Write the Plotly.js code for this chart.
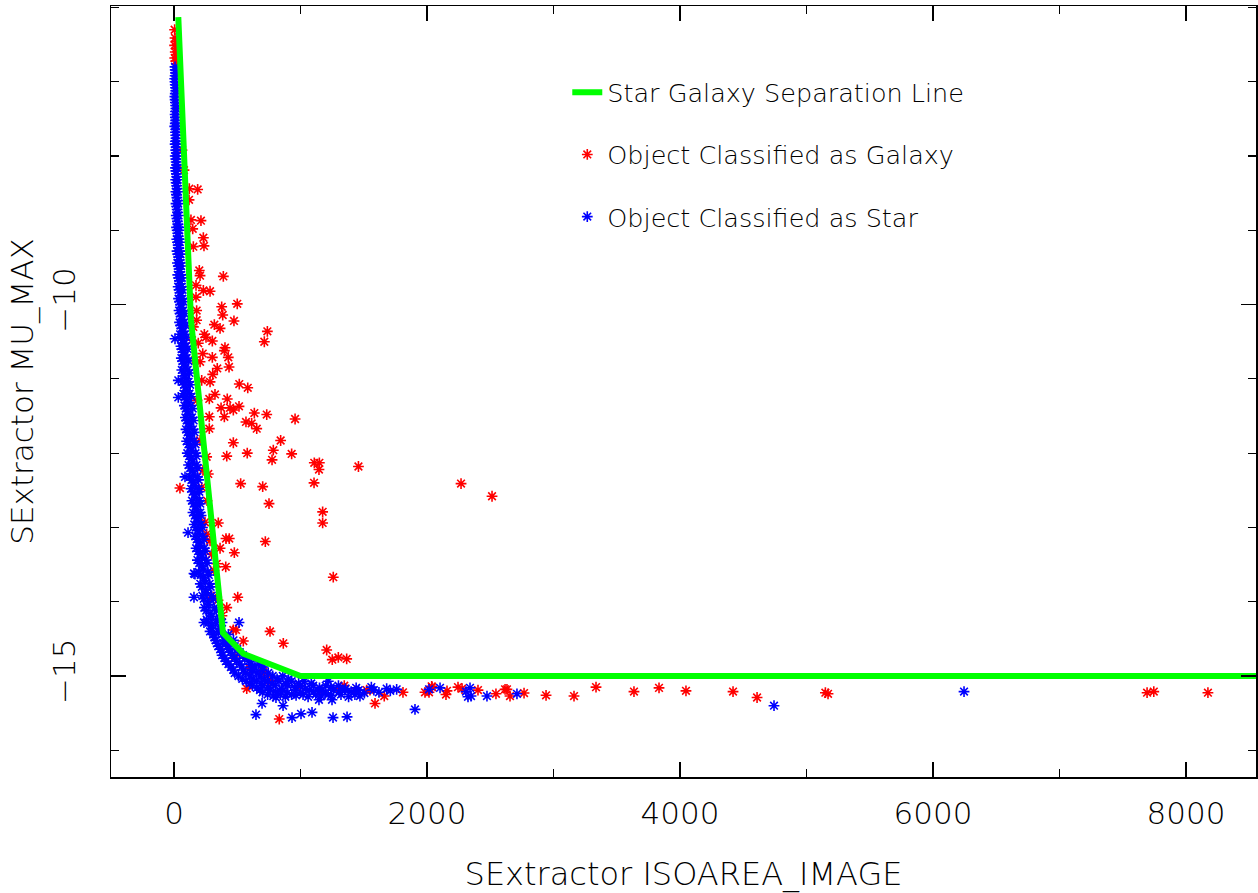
<!DOCTYPE html>
<html>
<head>
<meta charset="utf-8">
<script src="https://cdn.plot.ly/plotly-3.0.1.min.js"></script>
<style>html,body{margin:0;padding:0;background:#fff;}#chart{width:1258px;height:893px;}</style>
</head>
<body>
<div id="chart"></div>
<script>
// Star / galaxy separation line
const sepX = [34, 134, 387, 548, 1000, 9000];
const sepY = [-6.13, -10.2, -14.42, -14.7, -15.0, -15.0];

// Objects classified as galaxy (red)
const galaxyX = [5,8,15,5,18,10,20,6,14,22,
  121,187,119,213,134,148,232,237,153,390,200,206,174,232,285,174,377,500,385,474,179,179,153,
  319,364,738,714,240,253,303,192,403,398,227,303,429,206,342,435,306,285,516,583,219,324,279,421,
  372,443,514,469,279,398,635,733,957,569,614,654,279,469,843,579,417,258,785,775,930,1109,1149,1146,1458,
  271,527,701,1107,2269,2514,47,219,751,1175,1175,350,245,258,437,411,722,364,477,298,409,338,1259,
  504,311,417,490,469,759,548,864,1207,1251,1299,1365,706,575,832,1346,1523,1549,1589,1662,2037,
  142,166,182,206,229,261,285,316,348,379,427,482,601,759,996,1154,1312,1431,63,79,
  1810,1984,2016,2040,2150,2158,2245,2277,2403,2545,2617,2632,2656,2767,2941,3162,3336,3636,3834,4047,
  4419,4609,5149,5170,7692,7745,8173];
const galaxyY = [-6.30,-6.41,-6.46,-6.51,-6.55,-6.60,-6.64,-6.68,-6.72,-6.76,
  -8.44,-8.45,-8.59,-8.87,-8.86,-8.98,-9.10,-9.21,-9.22,-9.62,-9.54,-9.61,-9.74,-9.81,-9.82,-9.90,-10.03,-9.99,-10.14,-10.22,-10.08,-10.21,-10.30,
  -10.27,-10.32,-10.36,-10.50,-10.40,-10.44,-10.49,-10.52,-10.58,-10.62,-10.66,-10.71,-10.71,-10.77,-10.86,-10.84,-10.94,-11.04,-11.07,-11.12,-11.02,-11.21,-11.27,-11.27,
  -11.39,-11.39,-11.37,-11.42,-11.51,-11.51,-11.46,-11.48,-11.54,-11.58,-11.60,-11.67,-11.67,-11.86,-11.83,-12.00,-12.04,-12.05,-11.96,-12.09,-12.01,-12.13,-12.13,-12.22,-12.18,
  -12.28,-12.41,-12.45,-12.40,-12.41,-12.58,-12.47,-12.46,-12.68,-12.79,-12.94,-12.94,-12.93,-13.09,-13.15,-13.15,-13.19,-13.28,-13.34,-13.36,-13.53,-13.49,-13.67,
  -13.94,-13.94,-14.08,-14.38,-14.38,-14.40,-14.53,-14.56,-14.65,-14.78,-14.75,-14.77,-14.94,-15.17,-15.58,-15.13,-15.19,-15.19,-15.37,-15.27,-15.14,
  -10.48,-10.75,-11.29,-11.83,-12.23,-12.64,-13.18,-13.58,-13.98,-14.19,-14.59,-14.73,-14.90,-15.06,-15.14,-15.20,-15.17,-15.20,-7.92,-8.19,
  -15.22,-15.22,-15.22,-15.15,-15.25,-15.20,-15.15,-15.17,-15.19,-15.24,-15.18,-15.18,-15.27,-15.23,-15.26,-15.27,-15.15,-15.21,-15.16,-15.20,
  -15.21,-15.29,-15.225,-15.24,-15.225,-15.21,-15.225];

// Objects classified as star (blue)
const starX = [8,12,6,10,14,7,11,15,9,13,6,18,12,16,9,20,14,10,22,17,12,25,19,13,27,21,15,30,23,16,33,25,18,35,27,20,38,30,22,41,33,24,45,36,27,50,40,30,55,43,33,60,47,36,65,52,40,72,56,44,80,62,48,86,67,
  55,95,72,58,100,78,62,108,85,68,115,90,75,122,98,82,132,105,90,142,115,95,150,122,100,158,130,105,170,138,115,178,145,125,185,155,135,195,165,142,202,172,150,208,180,160,215,188,168,228,198,175,240,210,185,255,222,195,268,235,208,282,250,225,298,265,240,320,285,258,345,300,
  285,350,320,410,340,385,440,365,430,500,380,460,545,410,495,590,450,535,640,705,480,565,655,745,540,625,715,815,905,600,690,775,880,985,1085,
  655,745,850,955,1040,1150,1240,1355,1440,1560,700,805,895,1000,1105,1195,1305,1400,1505,1620,785,880,965,1060,1165,1245,1380,1470,
  111,158,237,696,648,862,933,1004,1091,1257,1368,1905,806,1146,1249,2016,2103,2308,2324,2340,2348,2474,2711,4743,6245,158,514,614,8,34,34,87,166,1710,1760,1220,1681,
  10,9,8,12,10,9,13,12,11,10,15,14,12,17,18,14,20,15,23,17,25,19,28,21,30,23,32,25,40,34,28,45,38,30,52,42,34,56,46,37,62,50,40,68,55,44,75,60,48,84,66,52,92,72,58,100,78,62,108,84,68,115,90,74,122,96,80,128,102,86,138,110,94,148,118,100,155,125,108,162,132,114,170,140,120,178,148,128,186,156,138,194,166,148,200,176,155,208,182,165,214,190,172,225,198,180,236,208,190,248,220,200,262,232,212,275,245,220,290,258,235,310,275,255,335,300,
  275,330,380,300,360,310,380,430,330,400,470,350,420,480,380,450,520,400,480,560,430,520,610,670,470,550,620,700,510,600,680,780,860,570,650,740,830,930,1030,620,700,800,900,1000,1100,1200,1300,680,760,860,960,1070,1170,1260,1350,1460,1580,740,840,930,1020,1120,1220,1320,1430];
const starY = [-6.80,-6.88,-6.96,-7.04,-7.12,-7.20,-7.28,-7.36,-7.44,-7.52,-7.60,-7.60,-7.68,-7.76,-7.84,-7.84,-7.92,-8.00,-8.00,-8.08,-8.16,-8.16,-8.24,-8.32,-8.32,-8.40,-8.48,-8.48,-8.56,-8.64,-8.64,-8.72,-8.80,-8.80,-8.88,-8.96,-8.96,-9.04,-9.12,-9.12,-9.20,-9.28,-9.28,-9.36,-9.44,-9.44,-9.52,-9.60,-9.60,-9.68,-9.76,-9.76,-9.84,-9.92,-9.92,-10.00,-10.08,-10.08,-10.16,-10.24,-10.24,-10.32,-10.40,-10.40,-10.48,
  -10.56,-10.56,-10.64,-10.72,-10.72,-10.80,-10.88,-10.88,-10.96,-11.04,-11.04,-11.12,-11.20,-11.20,-11.28,-11.36,-11.36,-11.44,-11.52,-11.52,-11.60,-11.68,-11.68,-11.76,-11.84,-11.84,-11.92,-12.00,-12.00,-12.08,-12.16,-12.16,-12.24,-12.32,-12.32,-12.40,-12.48,-12.48,-12.56,-12.64,-12.64,-12.72,-12.80,-12.80,-12.88,-12.96,-12.96,-13.04,-13.12,-13.12,-13.20,-13.28,-13.28,-13.36,-13.44,-13.44,-13.52,-13.60,-13.60,-13.68,-13.76,-13.76,-13.84,-13.92,-13.92,-14.00,-14.08,-14.08,-14.16,-14.24,-14.24,-14.32,
  -14.40,-14.40,-14.48,-14.48,-14.56,-14.56,-14.56,-14.64,-14.64,-14.64,-14.72,-14.72,-14.72,-14.80,-14.80,-14.80,-14.88,-14.88,-14.88,-14.88,-14.96,-14.96,-14.96,-14.96,-15.04,-15.04,-15.04,-15.04,-15.04,-15.10,-15.10,-15.10,-15.10,-15.10,-15.10,
  -15.16,-15.16,-15.17,-15.15,-15.17,-15.16,-15.15,-15.17,-15.16,-15.15,-15.22,-15.21,-15.23,-15.22,-15.21,-15.23,-15.22,-15.21,-15.23,-15.22,-15.27,-15.28,-15.26,-15.28,-15.27,-15.26,-15.28,-15.27,
  -13.07,-13.94,-14.28,-15.37,-15.52,-15.40,-15.56,-15.51,-15.49,-15.56,-15.55,-15.45,-15.29,-15.32,-15.32,-15.18,-15.16,-15.21,-15.28,-15.16,-15.27,-15.27,-15.24,-15.40,-15.21,-13.62,-14.28,-14.91,-10.46,-11.02,-11.25,-12.32,-13.63,-15.20,-15.18,-15.07,-15.17,
  -6.84,-6.92,-7.00,-7.08,-7.16,-7.24,-7.32,-7.40,-7.48,-7.56,-7.64,-7.72,-7.80,-7.88,-7.96,-8.04,-8.12,-8.20,-8.28,-8.36,-8.44,-8.52,-8.60,-8.68,-8.76,-8.84,-8.92,-9.00,-9.00,-9.08,-9.16,-9.16,-9.24,-9.32,-9.32,-9.40,-9.48,-9.48,-9.56,-9.64,-9.64,-9.72,-9.80,-9.80,-9.88,-9.96,-9.96,-10.04,-10.12,-10.12,-10.20,-10.28,-10.28,-10.36,-10.44,-10.44,-10.52,-10.60,-10.60,-10.68,-10.76,-10.76,-10.84,-10.92,-10.92,-11.00,-11.08,-11.08,-11.16,-11.24,-11.24,-11.32,-11.40,-11.40,-11.48,-11.56,-11.56,-11.64,-11.72,-11.72,-11.80,-11.88,-11.88,-11.96,-12.04,-12.04,-12.12,-12.20,-12.20,-12.28,-12.36,-12.36,-12.44,-12.52,-12.52,-12.60,-12.68,-12.68,-12.76,-12.84,-12.84,-12.92,-13.00,-13.00,-13.08,-13.16,-13.16,-13.24,-13.32,-13.32,-13.40,-13.48,-13.48,-13.56,-13.64,-13.64,-13.72,-13.80,-13.80,-13.88,-13.96,-13.96,-14.04,-14.12,-14.12,-14.20,
  -14.28,-14.28,-14.28,-14.36,-14.36,-14.44,-14.44,-14.44,-14.52,-14.52,-14.52,-14.60,-14.60,-14.60,-14.68,-14.68,-14.68,-14.76,-14.76,-14.76,-14.84,-14.84,-14.84,-14.84,-14.92,-14.92,-14.92,-14.92,-15.00,-15.00,-15.00,-15.00,-15.00,-15.07,-15.07,-15.07,-15.07,-15.07,-15.07,-15.13,-15.13,-15.13,-15.13,-15.13,-15.13,-15.13,-15.13,-15.19,-15.19,-15.19,-15.19,-15.19,-15.19,-15.19,-15.19,-15.19,-15.19,-15.25,-15.25,-15.25,-15.25,-15.25,-15.25,-15.25,-15.25];

const FONT = 'DejaVu Sans';
const W = 200;
const markerStyle = (c) => ({symbol: 'asterisk-open', size: 9, color: c, line: {color: c, width: 1.6}});

const traces = [
  {type: 'scatter', mode: 'markers', x: galaxyX, y: galaxyY, name: 'Object Classified as Galaxy',
   marker: markerStyle('#ff0000'), legendrank: 2, legendgroup: 'g', hoverinfo: 'skip'},
  {type: 'scatter', mode: 'markers', x: starX, y: starY, name: 'Object Classified as Star',
   marker: markerStyle('#0000ff'), legendrank: 3, legendgroup: 's', hoverinfo: 'skip'},
  {type: 'scatter', mode: 'lines', x: sepX, y: sepY, name: 'Star Galaxy Separation Line',
   line: {color: '#00ff00', width: 6}, legendrank: 1, legendgroup: 'l', hoverinfo: 'skip'}
];

const axisCommon = {
  showline: true, linecolor: '#000', linewidth: 1.5, mirror: 'ticks',
  ticks: 'inside', ticklen: 15, tickwidth: 1.2, tickcolor: '#000',
  showgrid: false, zeroline: false,
  tickfont: {family: FONT, size: 31, color: '#000', weight: W}
};

const layout = {
  width: 1258, height: 893,
  margin: {l: 111, r: 2, t: 6, b: 116, pad: 0},
  paper_bgcolor: '#fff', plot_bgcolor: '#fff',
  showlegend: true,
  legend: {x: 0.3985, y: 0.918, xanchor: 'left', yanchor: 'top', bgcolor: 'rgba(0,0,0,0)',
           font: {family: FONT, size: 25.5, color: '#000', weight: W}, tracegroupgap: 26, traceorder: 'grouped'},
  xaxis: Object.assign({}, axisCommon, {
    range: [-498, 8553], dtick: 2000, tick0: 0,
    minor: {dtick: 1000, ticklen: 8, ticks: 'inside', tickcolor: '#000', tickwidth: 1.2},
    ticklabelstandoff: 8,
    title: {text: 'SExtractor ISOAREA_IMAGE', font: {family: FONT, size: 32, color: '#000', weight: W}, standoff: 35}
  }),
  yaxis: Object.assign({}, axisCommon, {
    range: [-16.36, -5.98], dtick: 5, tick0: 0, tickangle: -90,
    minor: {dtick: 1, ticklen: 8, ticks: 'inside', tickcolor: '#000', tickwidth: 1.2},
    ticklabelstandoff: 22,
    title: {text: 'SExtractor MU_MAX', font: {family: FONT, size: 31, color: '#000', weight: W}, standoff: 3}
  })
};

Plotly.newPlot('chart', traces, layout, {displayModeBar: false, staticPlot: true});
</script>
</body>
</html>
